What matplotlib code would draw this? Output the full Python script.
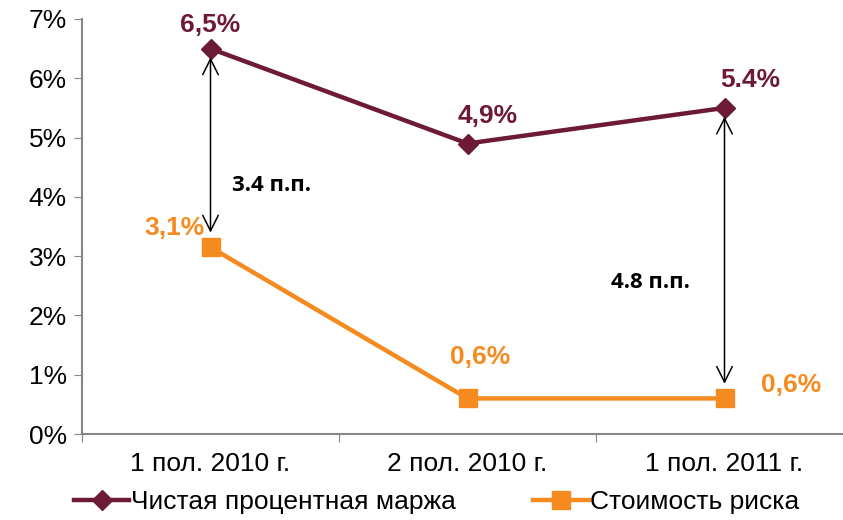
import matplotlib
matplotlib.use("Agg")
import matplotlib.pyplot as plt
from matplotlib.ticker import FuncFormatter

categories = ["1 пол. 2010 г.", "2 пол. 2010 г.", "1 пол. 2011 г."]
nim = [6.5, 4.9, 5.5]
nim_labels = ["6,5%", "4,9%", "5.4%"]
cor = [3.15, 0.6, 0.6]
cor_labels = ["3,1%", "0,6%", "0,6%"]
gap_labels = ["3.4 п.п.", "4.8 п.п."]
series_names = ["Чистая процентная маржа", "Стоимость риска"]

plt.rcParams['font.family'] = ["Liberation Sans", "DejaVu Sans"]

MAROON = "#6D1A36"
ORANGE = "#F58A1F"
GREY = "#868686"

fig = plt.figure(figsize=(8.43, 5.2), dpi=100)
ax = fig.add_axes([82/843, 86/520, 771/843, 415/520])
x = list(range(len(categories)))

ax.plot(x, nim, color=MAROON, lw=3.2, marker="D", ms=10.5, mec=MAROON, mfc=MAROON,
        label=series_names[0], zorder=3)
ax.plot(x, cor, color=ORANGE, lw=3.2, marker="s", ms=13, mec=ORANGE, mfc=ORANGE,
        label=series_names[1], zorder=3)

ax.set_xlim(-0.5, 2.5)
ax.set_ylim(0, 7)
ax.set_yticks(range(0, 8))
ax.yaxis.set_major_formatter(FuncFormatter(lambda v, p: f"{int(v)}%"))
ax.set_xticks([-0.5, 0.5, 1.5, 2.5])
ax.set_xticklabels([])
ax.set_xticks(x, minor=True)
ax.set_xticklabels(categories, minor=True, fontsize=19)
ax.tick_params(axis="x", which="minor", length=0, pad=13)
ax.tick_params(axis="x", which="major", length=6, color=GREY, direction="out")
ax.tick_params(axis="y", length=6, color=GREY, labelsize=19, direction="out", pad=5)
for s in ["top", "right"]:
    ax.spines[s].set_visible(False)
for s in ["left", "bottom"]:
    ax.spines[s].set_color(GREY)
    ax.spines[s].set_linewidth(1.5)

# data labels
nim_off = [(0, 0.4), (0.08, 0.47), (0.1, 0.47)]
for i, (v, t) in enumerate(zip(nim, nim_labels)):
    ax.text(i + nim_off[i][0], v + nim_off[i][1], t, color=MAROON, fontsize=19,
            fontweight="bold", ha="center", va="center")
cor_off = [(-0.14, 0.32), (0.05, 0.7), (0.26, 0.23)]
for i, (v, t) in enumerate(zip(cor, cor_labels)):
    ax.text(i + cor_off[i][0], v + cor_off[i][1], t, color=ORANGE, fontsize=19,
            fontweight="bold", ha="center", va="center")

# gap arrows
arrow_kw = dict(arrowstyle="<->", color="black", lw=1.1, mutation_scale=28)
ax.annotate("", xy=(0, nim[0] - 0.1), xytext=(0, cor[0] + 0.2), arrowprops=arrow_kw)
ax.annotate("", xy=(2, nim[2] - 0.1), xytext=(2, cor[2] + 0.2), arrowprops=arrow_kw)
ax.text(0.085, 4.19, gap_labels[0], fontsize=16, fontweight="bold", ha="left",
        va="center", family=["Open Sans", "DejaVu Sans"])
ax.text(1.71, 2.56, gap_labels[1], fontsize=16, fontweight="bold", ha="center",
        va="center", family=["Open Sans", "DejaVu Sans"])

leg = fig.legend(loc="center left", bbox_to_anchor=(74/843, 1 - 502/520), ncol=2,
                 frameon=False, handlelength=2.1, handletextpad=0.05, columnspacing=2.95,
                 prop={"size": 19}, borderaxespad=0, borderpad=0)

fig.savefig("out.png", dpi=100)
